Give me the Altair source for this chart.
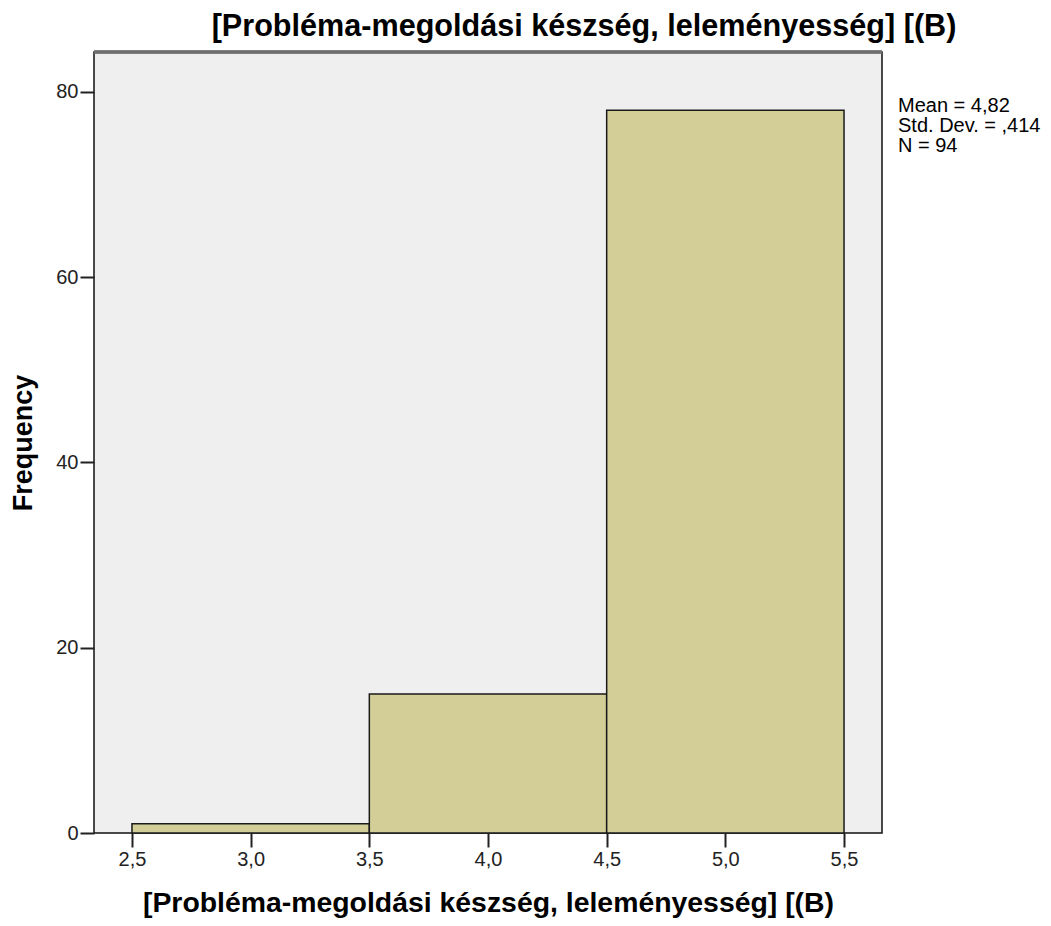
import altair as alt
import pandas as pd

bin_start = [2.5, 3.5, 4.5]
bin_end = [3.5, 4.5, 5.5]
counts = [1, 15, 78]
x_ticks = [2.5, 3.0, 3.5, 4.0, 4.5, 5.0, 5.5]
y_ticks = [0, 20, 40, 60, 80]
stats_lines = ["Mean = 4,82", "Std. Dev. = ,414", "N = 94"]
title_text = "[Probléma-megoldási készség, leleményesség] [(B)"

df = pd.DataFrame({"start": bin_start, "end": bin_end, "count": counts})
stats_df = pd.DataFrame({"line": stats_lines, "row": [0, 1, 2]})

W, H = 788, 781
FONT = "Liberation Sans, Arial"

xscale = alt.Scale(domain=[2.34, 5.66], nice=False, zero=False)
yscale = alt.Scale(domain=[0, 84.3], nice=False)

bars = alt.Chart(df).mark_rect(fill="#d3ce98", stroke="#1a1a1a", strokeWidth=1.5).encode(
    x=alt.X("start:Q", scale=xscale,
            axis=alt.Axis(values=x_ticks, format=".1f", labelExpr="replace(datum.label, '.', ',')",
                          title=title_text, titleFont=FONT, titleFontSize=28.4, titleFontWeight="bold",
                          titleColor="#000", titlePadding=20,
                          labelFont=FONT, labelFontSize=20, labelColor="#222",
                          tickSize=14, tickColor="#222", tickWidth=2, domain=False, grid=False,
                          labelPadding=2)),
    x2="end:Q",
    y=alt.Y("count:Q", scale=yscale,
            axis=alt.Axis(values=y_ticks, title="Frequency", titleFont=FONT,
                          titleFontSize=27, titleFontWeight="bold", titleColor="#000", titlePadding=18,
                          labelFont=FONT, labelFontSize=20, labelColor="#222",
                          tickSize=14, tickColor="#222", tickWidth=2, domain=False, grid=False,
                          labelPadding=2)),
    y2=alt.datum(0),
)

top_edge = alt.Chart(df).mark_rule(color="#6e6e6e", strokeWidth=3).encode(
    x=alt.value(0), x2=alt.value(W), y=alt.value(0)
)

stats = alt.Chart(stats_df).mark_text(align="left", baseline="alphabetic", font=FONT,
                                      fontSize=20, color="#000").encode(
    x=alt.value(W + 16),
    y=alt.Y("row:O", axis=None, scale=alt.Scale(domain=[0, 1, 2], range=[60, 100], padding=0)),
    text="line:N",
)

chart = alt.layer(bars, top_edge, stats).resolve_scale(y="independent").properties(
    width=W, height=H,
    autosize=alt.AutoSizeParams(type="none"),
    padding={"left": 86, "top": 44, "right": 161, "bottom": 85},
    title=alt.TitleParams(title_text, font=FONT, fontSize=30.6, fontWeight="bold", color="#000",
                          anchor="middle", dx=96, offset=8),
).configure_view(fill="#efefef", stroke="#111111", strokeWidth=1.5)

chart.save("out.html", embed_options={"renderer": "svg", "actions": False})
